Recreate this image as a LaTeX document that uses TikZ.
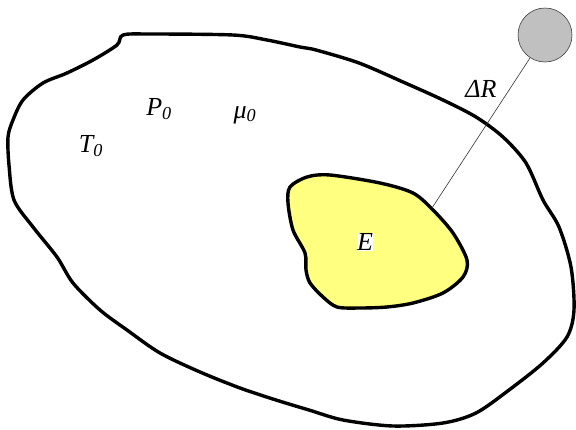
\documentclass[tikz,border=0pt]{standalone}
\usepackage{fontspec}
\setmainfont{Liberation Serif}
\usetikzlibrary{positioning}

\definecolor{coreyellow}{RGB}{255,255,128}
\definecolor{ballgray}{RGB}{192,192,192}

\begin{document}
\begin{tikzpicture}[
    x=1pt, y=-1pt,
    % styles
    border/.style={draw=black, line width=3.4pt, line join=round},
    core/.style={border, fill=coreyellow},
    ball/.style={circle, draw=black!75, line width=0.6pt, fill=ballgray, minimum size=54pt, inner sep=0},
    var/.style={font=\fontsize{26}{30}\selectfont\itshape, inner sep=1pt},
    link/.style={draw=black!80, line width=0.6pt}
  ]
  \useasboundingbox (0,0) rectangle (576,429);

  % Outer region
  \draw[border] plot[smooth cycle, tension=0.5] coordinates {
    (123,35) (150,34) (233,35) (267,40) (300,47) (316,50) (359,63)
    (403,82) (443,100) (476,117) (503,137) (526,163) (543,200)
    (559,227) (571,267) (574,310) (567,337) (543,363) (509,390)
    (476,413) (443,423) (393,426) (343,420) (309,410) (276,400)
    (240,388) (200,372) (160,353) (127,330) (100,310) (73,283)
    (57,257) (33,227) (14,200) (9,165) (8,137) (13,120) (23,100)
    (43,83) (67,73) (93,60) (117,45)};

  % Inner region
  \draw[core] plot[smooth cycle, tension=0.5] coordinates {
    (290,187) (307,177) (330,175) (380,183) (413,193) (433,210)
    (453,233) (467,260) (463,277) (443,293) (413,303) (387,307)
    (360,308) (337,307) (323,297) (310,283) (306,270) (305,253)
    (293,230) (288,203)};
  \coordinate (hit) at (432,208);

  % Labels
  \node[var] (temp) at (91,146) {T\textsubscript{0}};
  \node[var] (press) at (159,109) {P\textsubscript{0}};
  \node[var] (chem) at (245,115) {μ\textsubscript{0}};
  \node[var, fill=white, inner sep=0.5pt] (energy) at (365,242) {E};
  \node[var] (dist) at (481,89) {ΔR};

  % Probe
  \node[ball] (probe) at (545,35) {};
  \draw[link] (probe) -- (hit);
\end{tikzpicture}
\end{document}
